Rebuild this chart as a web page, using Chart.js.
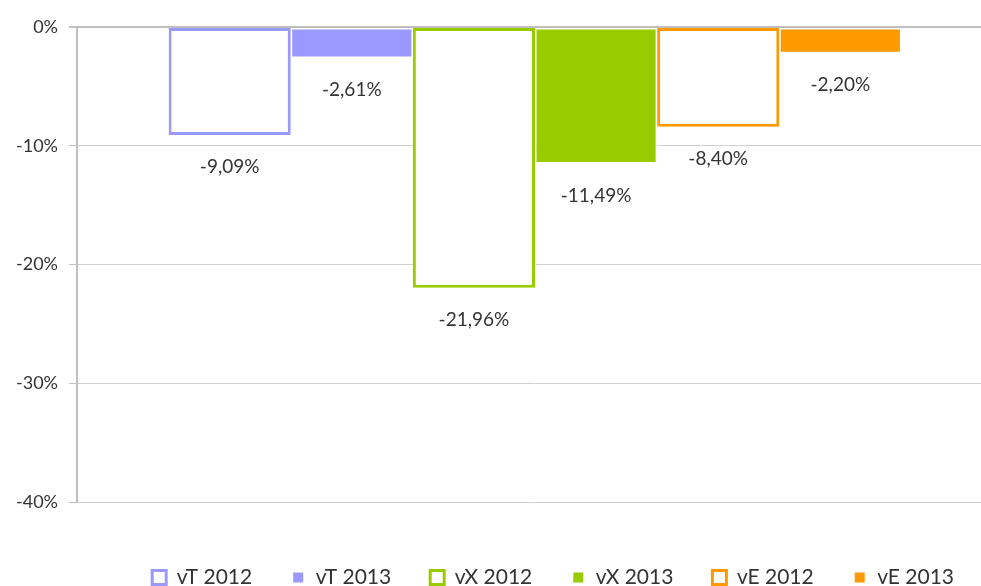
<!DOCTYPE html>
<html>
<head>
<meta charset="utf-8">
<script src="https://cdn.jsdelivr.net/npm/chart.js@4"></script>
<style>
  html, body { margin: 0; padding: 0; background: #fff; overflow: hidden; }
  #wrap { position: absolute; left: 0; top: 0; width: 995px; height: 598px; }
</style>
</head>
<body>
<div id="wrap"><canvas id="c" width="995" height="598"></canvas></div>
<script>
const categories = [''];
const seriesNames = ['vT 2012', 'vT 2013', 'vX 2012', 'vX 2013', 'vE 2012', 'vE 2013'];
const seriesValues = [-9.09, -2.61, -21.96, -11.49, -8.40, -2.20];
const seriesColors = ['#9999ff', '#9999ff', '#99cc00', '#99cc00', '#ff9900', '#ff9900'];
const seriesOpen = [true, false, true, false, true, false];
const yTicks = [0, -10, -20, -30, -40];

const FONT = 'Lato, "Open Sans", sans-serif';

const datasets = seriesNames.map((name, i) => ({
  label: name,
  data: [seriesValues[i]],
  backgroundColor: seriesOpen[i] ? '#ffffff' : seriesColors[i],
  borderColor: seriesOpen[i] ? seriesColors[i] : '#ffffff',
  borderWidth: seriesOpen[i] ? 3 : 1.5,
  borderSkipped: false,
  barPercentage: 1.0,
  categoryPercentage: 0.8
}));

const fmt = v => v.toFixed(2).replace('.', ',') + '%';

const labelPlugin = {
  id: 'valLabels',
  afterDatasetsDraw(chart) {
    const ctx = chart.ctx;
    ctx.save();
    ctx.font = '19px ' + FONT;
    ctx.fillStyle = '#333333';
    ctx.textAlign = 'center';
    ctx.textBaseline = 'middle';
    chart.data.datasets.forEach((ds, i) => {
      const meta = chart.getDatasetMeta(i);
      meta.data.forEach((bar, j) => {
        ctx.fillText(fmt(ds.data[j]), bar.x, bar.y + 32);
      });
    });
    ctx.restore();
  }
};

new Chart(document.getElementById('c'), {
  type: 'bar',
  data: { labels: categories, datasets },
  plugins: [labelPlugin],
  options: {
    responsive: false,
    animation: false,
    devicePixelRatio: 1,
    layout: { padding: { left: 0, right: 2, top: 27, bottom: 0 } },
    plugins: {
      tooltip: { enabled: false },
      legend: {
        position: 'bottom',
        align: 'end',
        labels: {
          font: { family: FONT, size: 21 },
          color: '#333333',
          boxWidth: 14,
          boxHeight: 14,
          padding: 39,
          generateLabels(chart) {
            const items = Chart.defaults.plugins.legend.labels.generateLabels(chart);
            return items.map((it, i) => {
              if (seriesOpen[i]) { it.lineWidth = 3; }
              else { it.lineWidth = 4; it.strokeStyle = '#ffffff'; }
              return it;
            });
          }
        }
      }
    },
    scales: {
      x: {
        display: true,
        grid: { display: false, drawTicks: false },
        border: { display: false },
        ticks: { display: false },
        afterFit(scale) { scale.height = 26; }
      },
      y: {
        min: -40,
        max: 0,
        afterBuildTicks(scale) { scale.ticks = yTicks.map(v => ({ value: v })); },
        afterFit(scale) { scale.width = 77; },
        ticks: {
          font: { family: FONT, size: 18 },
          color: '#333333',
          padding: 11,
          callback: v => v + '%'
        },
        grid: {
          color: ctx => ctx.tick && ctx.tick.value === 0 ? '#bfbfbf' : '#d0d0d0',
          lineWidth: ctx => ctx.tick && ctx.tick.value === 0 ? 2 : 1,
          tickLength: 8,
          tickColor: '#bfbfbf'
        },
        border: { display: true, color: '#bfbfbf', width: 2 }
      }
    }
  }
});
</script>
</body>
</html>
